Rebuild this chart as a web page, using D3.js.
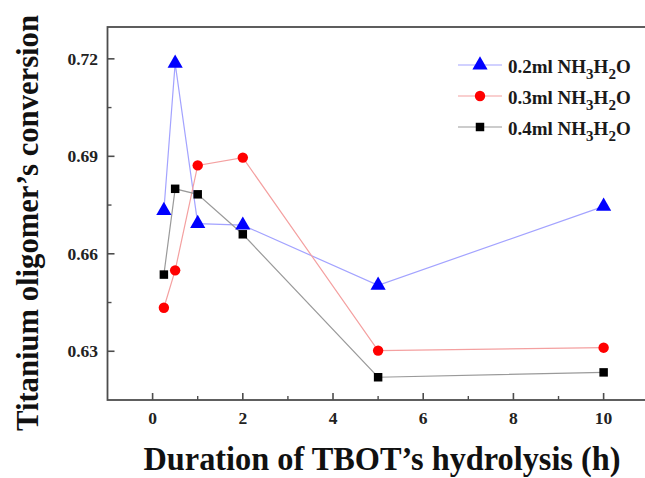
<!DOCTYPE html>
<html>
<head>
<meta charset="utf-8">
<script src="https://cdn.jsdelivr.net/npm/d3@7"></script>
<style>
  html, body { margin: 0; padding: 0; background: #fff; }
  svg { display: block; font-family: "Liberation Serif", "Times New Roman", serif; }
</style>
</head>
<body>
<svg id="chart" width="645" height="478"></svg>
<script>
// Hydrolysis duration (h)
const durations = [0.25, 0.5, 1, 2, 5, 10];
// Conversion for each ammonia dose
const conv02 = [0.6733, 0.7186, 0.6693, 0.6688, 0.6503, 0.6746];
const conv03 = [0.6434, 0.6549, 0.6872, 0.6896, 0.6302, 0.6311];
const conv04 = [0.6536, 0.6800, 0.6783, 0.6660, 0.6220, 0.6235];
const seriesNames = ["0.2ml", "0.3ml", "0.4ml"];
const xTicks = [0, 2, 4, 6, 8, 10];
const yTicks = [0.63, 0.66, 0.69, 0.72];

const series = [
  { name: seriesNames[0], values: conv02, line: "#a3a3ff", fill: "#0000ff", shape: d3.symbolTriangle, size: 100 },
  { name: seriesNames[1], values: conv03, line: "#f4a0a0", fill: "#ff0000", shape: d3.symbolCircle, size: 85 },
  { name: seriesNames[2], values: conv04, line: "#9a9a9a", fill: "#000000", shape: d3.symbolSquare, size: 72 }
];

const svg = d3.select("#chart");
const plotLeft = 107.5, plotRight = 660, plotTop = 27, plotBottom = 400;

const x = d3.scaleLinear().domain([-1, 11.25]).range([plotLeft, plotRight]);
const y = d3.scaleLinear().domain([0.615, 0.7298]).range([plotBottom, plotTop]);

// frame
svg.append("rect")
  .attr("x", plotLeft).attr("y", plotTop)
  .attr("width", plotRight - plotLeft).attr("height", plotBottom - plotTop)
  .attr("fill", "none").attr("stroke", "#4d4d4d").attr("stroke-width", 1.8);

// x ticks (inward), major + minor
const xMinor = d3.range(-1, 11.01, 1).filter(v => !xTicks.includes(v) && v > -1);
svg.append("g").selectAll("line").data(xTicks).join("line")
  .attr("x1", d => x(d)).attr("x2", d => x(d))
  .attr("y1", plotBottom).attr("y2", plotBottom - 7)
  .attr("stroke", "#4d4d4d").attr("stroke-width", 1.6);
svg.append("g").selectAll("line").data(xMinor).join("line")
  .attr("x1", d => x(d)).attr("x2", d => x(d))
  .attr("y1", plotBottom).attr("y2", plotBottom - 4)
  .attr("stroke", "#4d4d4d").attr("stroke-width", 1.4);
svg.append("g").selectAll("text").data(xTicks).join("text")
  .attr("x", d => x(d)).attr("y", 424)
  .attr("text-anchor", "middle")
  .attr("font-size", 17.5).attr("font-weight", "bold").attr("fill", "#222")
  .text(d => d);

// y ticks (inward), major + minor
const yMinor = [0.645, 0.675, 0.705];
svg.append("g").selectAll("line").data(yTicks).join("line")
  .attr("x1", plotLeft).attr("x2", plotLeft + 7)
  .attr("y1", d => y(d)).attr("y2", d => y(d))
  .attr("stroke", "#4d4d4d").attr("stroke-width", 1.6);
svg.append("g").selectAll("line").data(yMinor).join("line")
  .attr("x1", plotLeft).attr("x2", plotLeft + 4)
  .attr("y1", d => y(d)).attr("y2", d => y(d))
  .attr("stroke", "#4d4d4d").attr("stroke-width", 1.4);
svg.append("g").selectAll("text").data(yTicks).join("text")
  .attr("x", 98).attr("y", d => y(d) + 6)
  .attr("text-anchor", "end")
  .attr("font-size", 17.5).attr("font-weight", "bold").attr("fill", "#222")
  .text(d => d3.format(".2f")(d));

// series lines and markers
const line = d3.line().x((d, i) => x(durations[i])).y(d => y(d));
series.forEach(s => {
  svg.append("path").datum(s.values)
    .attr("d", line).attr("fill", "none")
    .attr("stroke", s.line).attr("stroke-width", 1.2);
});
series.forEach(s => {
  svg.append("g").selectAll("path").data(s.values).join("path")
    .attr("transform", (d, i) => `translate(${x(durations[i])},${y(d)})`)
    .attr("d", d3.symbol().type(s.shape).size(s.size))
    .attr("fill", s.fill);
});

// legend
const legend = svg.append("g");
const legY = [65, 96, 127];
series.forEach((s, i) => {
  const g = legend.append("g").attr("transform", `translate(0,${legY[i]})`);
  g.append("line").attr("x1", 458).attr("x2", 502).attr("y1", 0).attr("y2", 0)
    .attr("stroke", s.line).attr("stroke-width", 1.2);
  g.append("path").attr("transform", "translate(480,0)")
    .attr("d", d3.symbol().type(s.shape).size(s.size)).attr("fill", s.fill);
  const t = g.append("text").attr("x", 508).attr("y", 8)
    .attr("font-size", 19).attr("font-weight", "bold").attr("fill", "#1a1a1a");
  t.append("tspan").text(s.name + " NH");
  t.append("tspan").attr("dy", 6).attr("font-size", 15).text("3");
  t.append("tspan").attr("dy", -6).text("H");
  t.append("tspan").attr("dy", 6).attr("font-size", 15).text("2");
  t.append("tspan").attr("dy", -6).text("O");
});

// axis titles
svg.append("text")
  .attr("x", 382).attr("y", 470)
  .attr("text-anchor", "middle")
  .attr("font-size", 33).attr("font-weight", "bold").attr("fill", "#111")
  .attr("textLength", 477).attr("lengthAdjust", "spacingAndGlyphs")
  .text("Duration of TBOT\u2019s hydrolysis (h)");
svg.append("text")
  .attr("transform", "translate(38,223) rotate(-90)")
  .attr("text-anchor", "middle")
  .attr("font-size", 31).attr("font-weight", "bold").attr("fill", "#111")
  .attr("textLength", 416).attr("lengthAdjust", "spacingAndGlyphs")
  .text("Titanium oligomer\u2019s conversion");
</script>
</body>
</html>
